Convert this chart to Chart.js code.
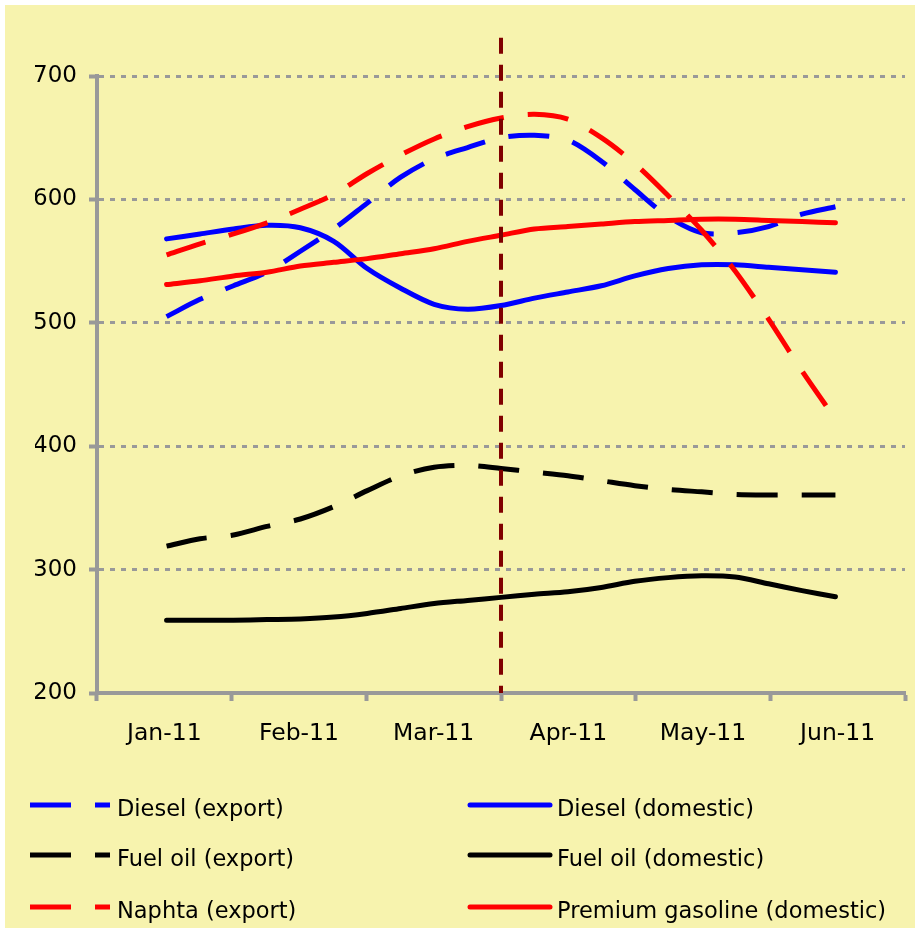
<!DOCTYPE html>
<html><head><meta charset="utf-8">
<script src="https://cdn.jsdelivr.net/npm/chart.js@4.4.0/dist/chart.umd.min.js"></script>
<style>
html,body{margin:0;padding:0;background:#fff;width:915px;height:928px;overflow:hidden;}
#frame{position:absolute;left:5px;top:5px;width:910px;height:923px;background:#F7F3AE;}
#chartBox{position:absolute;left:0;top:0;width:910px;height:923px;}
.lgt{position:absolute;font-family:"DejaVu Sans";font-size:22.5px;line-height:1;color:#000;white-space:nowrap;}
.lgs{position:absolute;overflow:visible;}
</style></head><body>
<div id="frame"><div id="chartBox"><canvas id="c"></canvas></div></div>
<div id="legend"></div>
<script>
// Category (month) labels
const months = ['Jan-11','Feb-11','Mar-11','Apr-11','May-11','Jun-11'];
// Weekly observations, Jan-11 .. Jun-11 (21 points)
const dieselExport    = [505, 519, 530, 541, 558, 576, 597, 618, 633, 642, 650, 652, 648, 631, 608, 586, 573, 573, 578, 588, 594];
const dieselDomestic  = [568, 572, 576, 579, 577, 566, 544, 528, 515, 511, 514, 520, 525, 530, 538, 544, 547, 547, 545, 543, 541];
const fuelOilExport   = [319, 325, 328, 335, 341, 351, 364, 376, 383, 384.5, 382, 379, 376, 372, 368, 365, 363, 361, 360.5, 360.5, 360.5];
const fuelOilDomestic = [259, 259, 259, 259.5, 260, 261.5, 264.5, 268.5, 272.5, 275, 277.5, 280, 282, 285.5, 290.5, 293.5, 295, 294, 288.5, 283, 278];
const naphtaExport    = [555, 564, 572, 581, 592, 604, 621, 636, 649, 659, 666, 669, 665, 650, 629, 603, 575, 542, 503, 461, 422];
const premiumGasoline = [531, 534, 538, 541, 546, 549, 552, 556, 560, 566, 571, 576, 578, 580, 582, 583, 584, 584, 583, 582, 581];
// Vertical divider (between Mar-11 and Apr-11), in axis units
const dividerX = [2.5, 2.5];
const dividerY = [731, 200];
// Y-axis ticks
const yTicks = [200, 300, 400, 500, 600, 700];

const weekX = dieselExport.map((_, i) => i / 4);
const pts = arr => arr.map((v, i) => ({x: weekX[i], y: v}));

const GRAY = '#999999';
const DASH = [41, 24];

const series = [
  {label:'Diesel (export)', data: dieselExport, color:'#0000FF', dash: DASH, order: 6},
  {label:'Diesel (domestic)', data: dieselDomestic, color:'#0000FF', dash: [], order: 5},
  {label:'Fuel oil (export)', data: fuelOilExport, color:'#000000', dash: DASH, order: 4},
  {label:'Fuel oil (domestic)', data: fuelOilDomestic, color:'#000000', dash: [], order: 3},
  {label:'Naphta (export)', data: naphtaExport, color:'#FF0000', dash: DASH, order: 2},
  {label:'Premium gasoline (domestic)', data: premiumGasoline, color:'#FF0000', dash: [], order: 1}
];

const datasets = series.map(s => ({
  label: s.label,
  data: pts(s.data),
  xAxisID: 'xd', yAxisID: 'y',
  borderColor: s.color,
  backgroundColor: s.color,
  borderWidth: 5,
  borderDash: s.dash,
  borderCapStyle: s.dash.length ? 'butt' : 'round',
  borderJoinStyle: 'round',
  pointRadius: 0,
  tension: 0.3,
  fill: false,
  order: s.order
}));
datasets.push({
  label: 'divider',
  data: dividerX.map((x, i) => ({x: x, y: dividerY[i]})),
  xAxisID: 'xd', yAxisID: 'y',
  borderColor: '#800000',
  borderWidth: 4,
  borderDash: [16, 11],
  pointRadius: 0,
  tension: 0,
  clip: false,
  order: 0
});

const chart = new Chart(document.getElementById('c'), {
  type: 'line',
  data: { labels: months, datasets: datasets },
  options: {
    responsive: true,
    maintainAspectRatio: false,
    animation: false,
    layout: { padding: { left: 30, right: 10, top: 71, bottom: 175 } },
    plugins: { legend: { display: false }, tooltip: { enabled: false } },
    scales: {
      x: {
        type: 'category', labels: months, offset: true, position: 'bottom',
        grid: { offset: true, drawOnChartArea: false, drawTicks: true, tickLength: 8, tickColor: GRAY, tickWidth: 4 },
        border: { display: true, color: GRAY, width: 4 },
        ticks: { color: '#000', font: { family: 'DejaVu Sans', size: 23.5 }, padding: 19, maxRotation: 0, autoSkip: false },
        afterFit(s) { s.height = 60; }
      },
      xd: { type: 'linear', min: -0.52, max: 5.52, display: false },
      y: {
        min: 200, max: 700,
        afterBuildTicks(s) { s.ticks = yTicks.map(v => ({value: v})); },
        ticks: { color: '#000', font: { family: 'DejaVu Sans', size: 23 }, padding: 12 },
        grid: { color: GRAY, lineWidth: 3, tickLength: 8, tickColor: GRAY, tickWidth: 4, tickBorderDash: [] },
        border: { display: true, color: GRAY, width: 4, dash: [5, 6] },
        afterFit(s) { s.width = 62; }
      }
    }
  }
});

// HTML legend in two columns, built from the datasets
(function buildLegend() {
  const lg = document.getElementById('legend');
  const rowLineY = [805, 855, 906.5];
  const rowTextTop = [797.2, 847.2, 898.7];
  const cols = [
    {x1: 30, x2: 110, textX: 117},
    {x1: 470, x2: 550, textX: 557}
  ];
  chart.data.datasets.filter(d => d.label !== 'divider').forEach((d, i) => {
    const row = Math.floor(i / 2), col = cols[i % 2];
    const svgNS = 'http://www.w3.org/2000/svg';
    const svg = document.createElementNS(svgNS, 'svg');
    svg.setAttribute('class', 'lgs');
    svg.setAttribute('width', 915);
    svg.setAttribute('height', 12);
    svg.style.left = '0px';
    svg.style.top = (rowLineY[row] - 6) + 'px';
    const ln = document.createElementNS(svgNS, 'line');
    ln.setAttribute('x1', col.x1); ln.setAttribute('x2', col.x2);
    ln.setAttribute('y1', 6); ln.setAttribute('y2', 6);
    ln.setAttribute('stroke', d.borderColor);
    ln.setAttribute('stroke-width', 5);
    if (d.borderDash && d.borderDash.length) {
      ln.setAttribute('stroke-dasharray', d.borderDash.join(' '));
      ln.setAttribute('stroke-linecap', 'butt');
    } else {
      ln.setAttribute('stroke-linecap', 'round');
    }
    svg.appendChild(ln);
    lg.appendChild(svg);
    const t = document.createElement('div');
    t.className = 'lgt';
    t.textContent = d.label;
    t.style.left = col.textX + 'px';
    t.style.top = rowTextTop[row] + 'px';
    lg.appendChild(t);
  });
})();
</script>
</body></html>
